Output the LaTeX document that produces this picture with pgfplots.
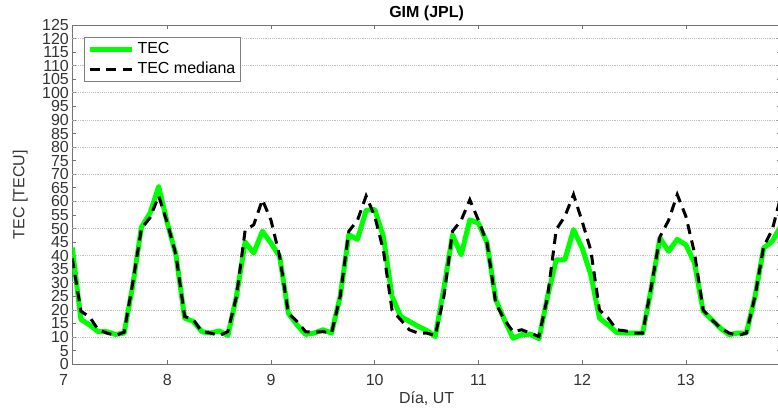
\documentclass[border=0pt]{standalone}
\usepackage{fontspec}
\setmainfont{Liberation Sans}
\usepackage{pgfplots}
\usepackage{pgfplotstable}
\pgfplotsset{compat=1.18}

\definecolor{tecgreen}{RGB}{0,255,0}

% day, TEC, TEC mediana (2 h steps)
\pgfplotstableread{
day     tec   med
7.0833  43    39
7.1667  16.5  19.5
7.25    14.5  17.5
7.3333  12    12.7
7.4167  12    11.5
7.5     11    10.6
7.5833  11.5  11.8
7.6667  29    30
7.75    50.5  50
7.8333  55.7  54
7.9167  65.5  62
8.0     52    52
8.0833  40.3  40.3
8.1667  17    17.6
8.25    15.8  16.4
8.3333  12    12
8.4167  11.5  11.5
8.5     12.3  10.6
8.5833  10.6  12
8.6667  25    25
8.75    45    49.3
8.8333  41    51.4
8.9167  49    60.6
9.0     44.6  53
9.0833  39.7  39.7
9.1667  18.8  18.8
9.25    14.5  15.8
9.3333  11    12
9.4167  11.5  11.8
9.5     12.7  12
9.5833  11.5  11.5
9.6667  25    25
9.75    47.7  49
9.8333  46    53
9.9167  56.7  62
10.0    57    54.5
10.0833 47    42
10.1667 25    20
10.25   17.6  16.4
10.3333 15.8  12.7
10.4167 14    11.5
10.5    12.5  11.5
10.5833 10.2  10.6
10.6667 28    25
10.75   47.7  49
10.8333 40.3  53
10.9167 53.2  60.6
11.0    52    53
11.0833 44.6  44.6
11.1667 23.8  22.5
11.25   16.4  16.4
11.3333 9.6   12
11.4167 10.9  12.7
11.5    11.1  11.5
11.5833 9.4   10.2
11.6667 25    25
11.75   38.5  49.6
11.8333 38.5  54.5
11.9167 49.6  62.5
12.0    42.8  52.6
12.0833 33    42
12.1667 17    20
12.25   14.5  17
12.3333 11.7  12.7
12.4167 11.5  12.3
12.5    11.5  11.5
12.5833 11.5  11.5
12.6667 28    28.7
12.75   46.5  47
12.8333 41.6  53
12.9167 46    62.5
13.0    44    54.5
13.0833 37.3  41
13.1667 19.5  20
13.25   16.4  16.4
13.3333 13.3  13.3
13.4167 10.9  11.5
13.5    11.5  10.6
13.5833 11.5  11.5
13.6667 25    25
13.75   42.8  43.4
13.8333 45.3  49.6
13.9167 51    62
}\tecdata

\begin{document}
\begin{tikzpicture}
\begin{axis}[
  name=ax,
  scale only axis,
  width=531.5pt, height=254.5pt,
  xmin=7.0833, xmax=13.9167,
  ymin=0, ymax=125,
  xtick={8,...,13},
  ytick={0,5,...,125},
  extra y ticks={10,20,...,120},
  extra y tick labels={},
  extra y tick style={grid=major, major tick length=0pt},
  major grid style={densely dotted, black!25, line width=0.5pt},
  tick align=inside,
  major tick length=3pt,
  axis line style={black!55},
  tick style={black!55, line width=0.5pt},
  /pgf/number format/assume math mode=true,
  ticklabel style={font=\fontsize{12}{12}\selectfont, text=black!80},
  xticklabel style={yshift=-4pt},
  yticklabel style={xshift=1pt},
  clip mode=individual,
  title={GIM (JPL)},
  every axis title/.style={at={(axis description cs:0.5,1)}, anchor=center,
    yshift=9pt, font=\bfseries\fontsize{12}{12}\selectfont},
  xlabel={Día, UT},
  every axis x label/.style={at={(axis description cs:0.5,0)}, anchor=center,
    yshift=-25.5pt, font=\fontsize{12}{12}\selectfont, text=black!80},
  ylabel={TEC [TECU]},
  every axis y label/.style={at={(axis description cs:0,0.5)}, anchor=center,
    rotate=90, yshift=39pt, font=\fontsize{12}{12}\selectfont, text=black!80},
  legend style={at={(axis description cs:0,1)}, anchor=north west,
    xshift=9pt, yshift=-9pt, draw=black!50, fill=white,
    font=\fontsize{12}{14}\selectfont, inner sep=2pt, row sep=1pt,
    cells={anchor=west}},
  legend image code/.code={\draw[#1] (0pt,0pt) -- (32pt,0pt);},
]
\addplot[tecgreen, line width=3.75pt, line join=round] table[x=day, y=tec] {\tecdata};
\addlegendentry{TEC}
\addplot[black, line width=2.25pt, dash pattern=on 7.5pt off 5pt] table[x=day, y=med] {\tecdata};
\addlegendentry{TEC mediana}
\node[anchor=north, yshift=-4pt, font=\fontsize{12}{12}\selectfont, text=black!80] at (axis cs:7,0) {7};
\end{axis}
\pgfresetboundingbox
\path (ax.south west) ++(-54.2pt,-34.3pt) rectangle ++(583.5pt,307.5pt);
\end{tikzpicture}
\end{document}
